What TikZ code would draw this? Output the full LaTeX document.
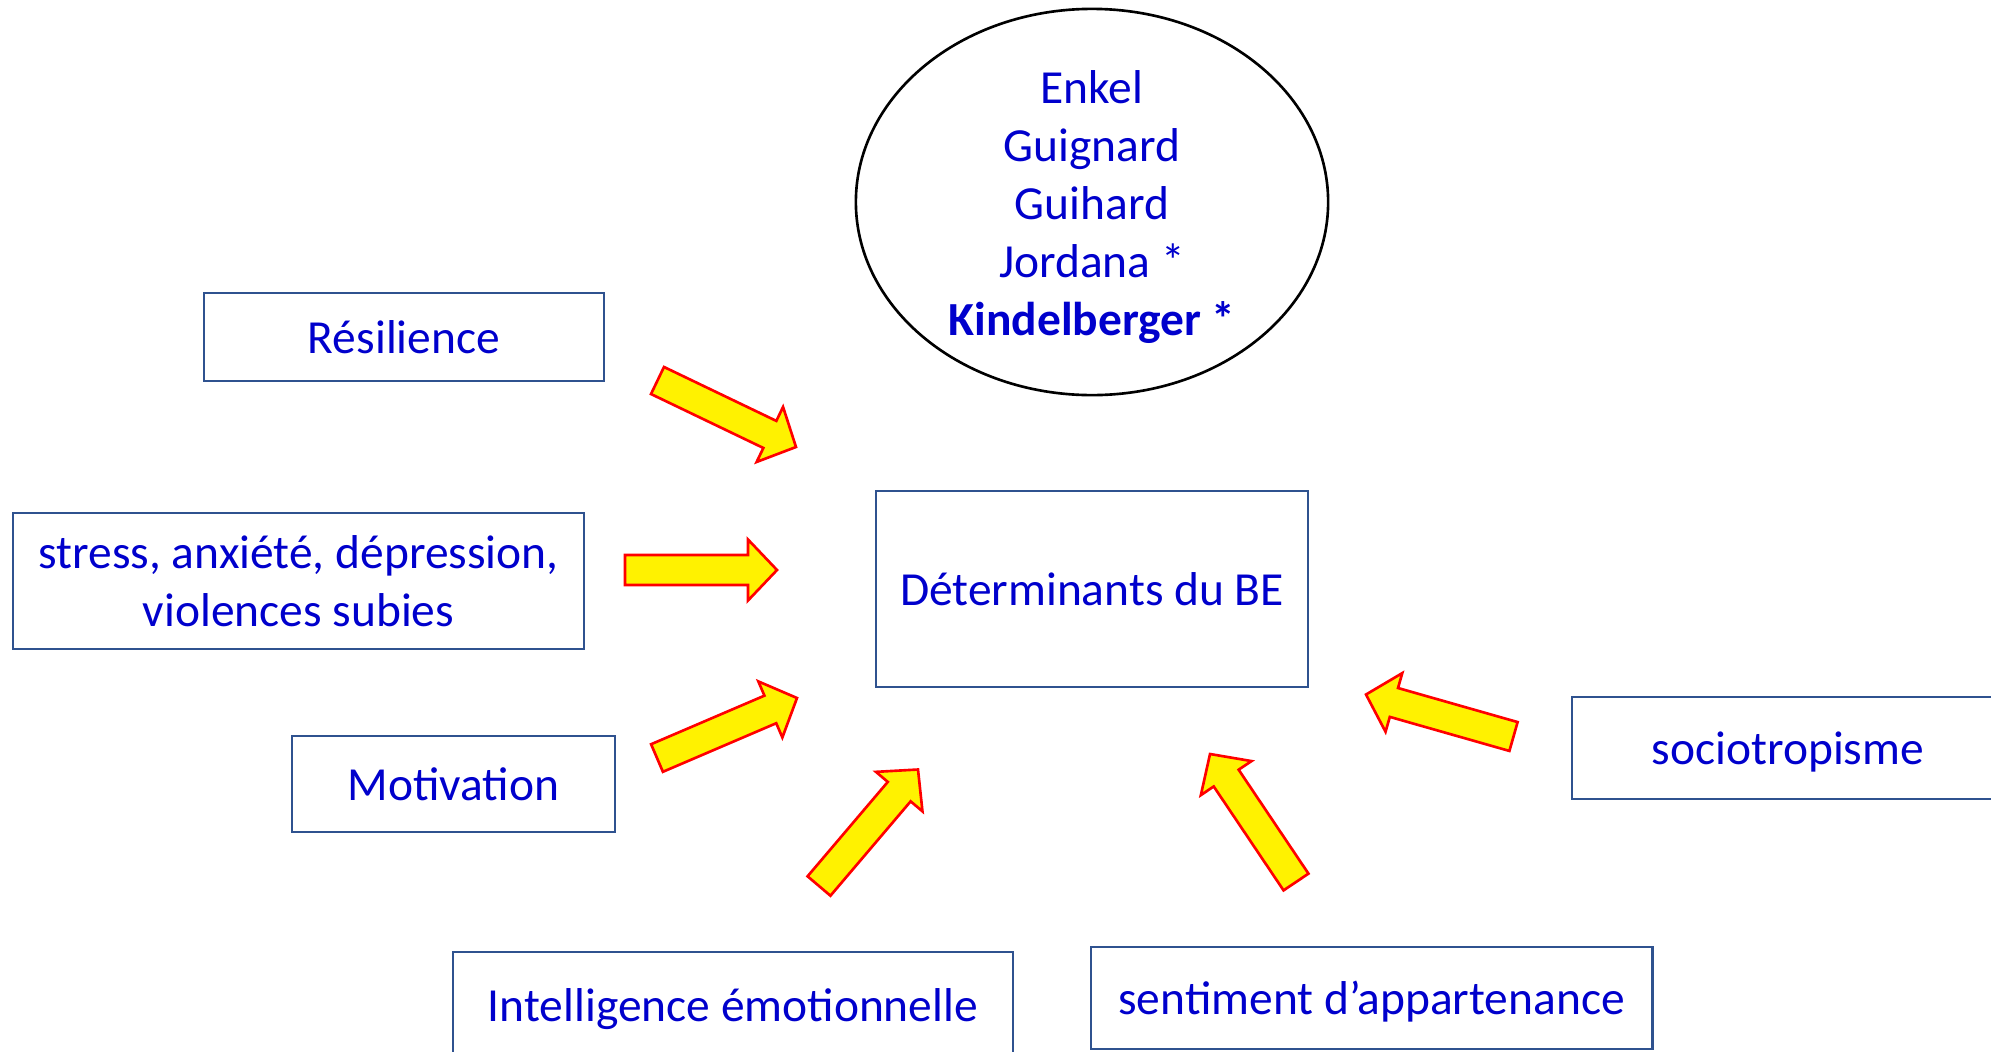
\documentclass[tikz,border=0pt]{standalone}
\usepackage{fontspec}
\setmainfont{Carlito}
\usetikzlibrary{calc,shapes.geometric}

\definecolor{textblue}{RGB}{0,0,204}
\definecolor{boxline}{RGB}{47,82,143}

\tikzset{
  factor/.style={draw=boxline,line width=0.75pt,text=textblue,inner sep=0pt,align=center,
    font=\fontsize{13.5}{16.5}\selectfont},
  oneline/.style={text height=12.8pt,text depth=3.6pt},
  authors/.style={ellipse,draw=black,line width=0.75pt,inner sep=0pt,
    minimum width=4.72cm,minimum height=3.86cm},
  names/.style={text=textblue,inner sep=0pt,align=center,font=\fontsize{13.5}{16.5}\selectfont},
  bigarrow/.style={draw=red,fill=yellow,line width=0.75pt,line join=miter}
}

% block arrow from tail #1 to tip #2
\newcommand{\blockarrow}[2]{%
  \coordinate (hb) at ($(#2)!0.29cm!(#1)$);
  \filldraw[bigarrow] ($(#1)!0.15cm!90:(#2)$) -- ($(hb)!0.15cm!-90:(#1)$) -- ($(hb)!0.305cm!-90:(#1)$)
    -- (#2) -- ($(hb)!0.305cm!90:(#1)$) -- ($(hb)!0.15cm!90:(#1)$) -- ($(#1)!0.15cm!-90:(#2)$) -- cycle;
}

\begin{document}
\begin{tikzpicture}[x=0.01cm,y=0.01cm]
    \useasboundingbox (0,0) rectangle (1991,-1051);
    \node[authors] (auteurs) at (1092,-202) {};
    \node[names] (noms) at ($(auteurs.center)+(0,-5)$) {Enkel\\Guignard\\Guihard\\Jordana *\\\textbf{Kindelberger *}};
    \node[factor,oneline,minimum width=4.32cm,minimum height=1.96cm] (det) at (1092,-589) {Déterminants du BE};
    \node[factor,oneline,minimum width=4.00cm,minimum height=0.88cm] (res) at (404,-337) {Résilience};
    \node[factor,minimum width=5.71cm,minimum height=1.36cm] (str) at (298.5,-581) {stress, anxiété, dépression,\\violences subies};
    \node[factor,oneline,minimum width=3.23cm,minimum height=0.96cm] (mot) at (453.5,-784) {Motivation};
    \node[factor,oneline,minimum width=5.60cm,minimum height=1.07cm] (int) at (733,-1005.5) {Intelligence émotionnelle};
    \node[factor,oneline,minimum width=5.61cm,minimum height=1.02cm] (sen) at (1371.5,-998) {sentiment d’appartenance};
    \node[factor,oneline,minimum width=4.32cm,minimum height=1.02cm] (soc) at (1788,-748) {sociotropisme};
    % arrow ends
    \coordinate (res1) at (657.5,-380.5); \coordinate (res2) at (796,-447);
    \coordinate (str1) at (625,-570);     \coordinate (str2) at (777,-570);
    \coordinate (mot1) at (657,-758);     \coordinate (mot2) at (797,-698);
    \coordinate (int1) at (819,-886);     \coordinate (int2) at (918,-769.5);
    \coordinate (sen1) at (1296,-882);    \coordinate (sen2) at (1210,-754);
    \coordinate (soc1) at (1513.5,-736.5); \coordinate (soc2) at (1366,-694.5);
    \foreach\n in {res,str,mot,int,sen,soc}{
        \blockarrow{\n1}{\n2}
    }
\end{tikzpicture}
\end{document}
